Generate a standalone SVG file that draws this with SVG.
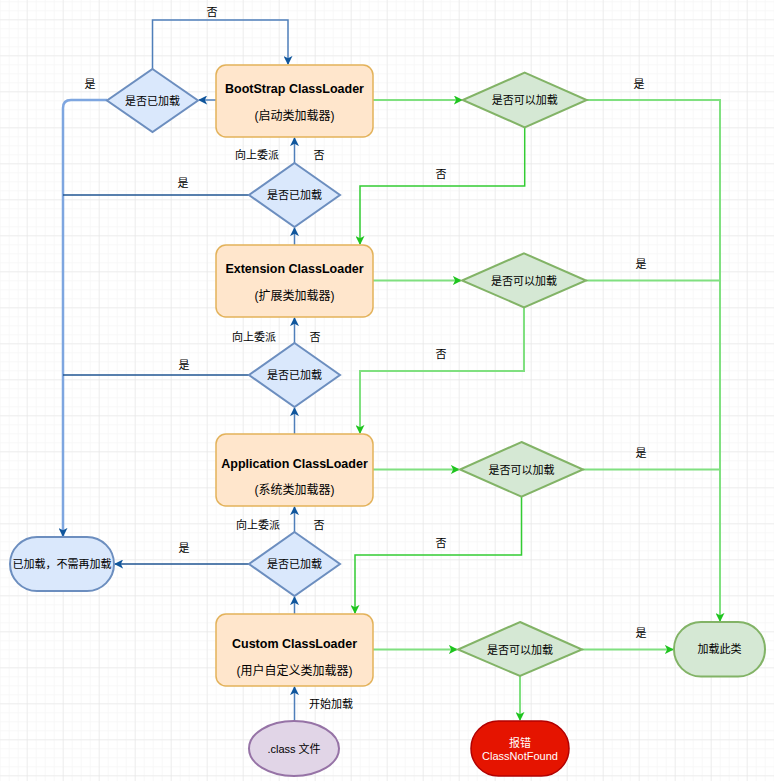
<svg xmlns="http://www.w3.org/2000/svg" width="774" height="781" viewBox="0 0 774 781">
<defs>
<pattern id="minor" x="26.7" y="19.3" width="9" height="9" patternUnits="userSpaceOnUse">
<path d="M0,0 H9 M0,0 V9" fill="none" stroke="#f2f2f2" stroke-width="1"/>
</pattern>
<pattern id="major" x="26.7" y="19.3" width="36" height="36" patternUnits="userSpaceOnUse">
<path d="M0,0 H36 M0,0 V36" fill="none" stroke="#e4e4e4" stroke-width="1"/>
</pattern>
<marker id="ab" viewBox="0 0 10 10" refX="9" refY="5" markerWidth="9" markerHeight="9" markerUnits="userSpaceOnUse" orient="auto">
<path d="M0,0 L10,5 L0,10 L2.5,5 Z" fill="#10569c"/>
</marker>
<marker id="ag" viewBox="0 0 10 10" refX="9" refY="5" markerWidth="9" markerHeight="9" markerUnits="userSpaceOnUse" orient="auto">
<path d="M0,0 L10,5 L0,10 L2.5,5 Z" fill="#1ec41e"/>
</marker>
<style>
text{font-family:"Liberation Sans","Noto Sans CJK SC",sans-serif;font-size:11px;fill:#000;text-anchor:middle}
.t{font-size:12.5px;font-weight:bold}
.s{font-size:12px}
.box{fill:#ffe6cc;stroke:#e3b25a;stroke-width:1.5}
.bd{fill:#dae8fc;stroke:#6c8ebf;stroke-width:2}
.gd{fill:#d5e8d4;stroke:#82b366;stroke-width:2}
.bl{fill:none;stroke:#4f7fba;stroke-width:1.5}
.bld{fill:none;stroke:#1f5592;stroke-width:1.3}
.blt{fill:none;stroke:#7ea6e0;stroke-width:2.5}
.gl{fill:none;stroke:#80e080;stroke-width:2}
.gn{fill:none;stroke:#33cc33;stroke-width:1.5}
</style>
</defs>
<rect width="774" height="781" fill="#ffffff"/>
<rect width="774" height="781" fill="url(#minor)"/>
<rect width="774" height="781" fill="url(#major)"/>

<g id="connectors">
<path class="bl" d="M216,100 L199,100" marker-end="url(#ab)"/>
<path class="bl" d="M152.5,69 L152.5,20 L288,20 L288,64" marker-end="url(#ab)"/>
<path class="blt" d="M107,100 L71,100 Q63,100 63,108 L63,536" marker-end="url(#ab)"/>
<path class="bld" d="M249,195 L63,195"/>
<path class="bld" d="M249,375 L63,375"/>
<path class="bld" d="M249,564 L115,564" marker-end="url(#ab)"/>
<path class="bl" d="M294.5,163 L294.5,138" marker-end="url(#ab)"/>
<path class="bl" d="M294.5,245 L294.5,228" marker-end="url(#ab)"/>
<path class="bl" d="M294.5,343 L294.5,318" marker-end="url(#ab)"/>
<path class="bl" d="M294.5,434 L294.5,408" marker-end="url(#ab)"/>
<path class="bl" d="M294.5,532 L294.5,507" marker-end="url(#ab)"/>
<path class="bl" d="M294.5,614 L294.5,597" marker-end="url(#ab)"/>
<path class="bl" d="M294.5,721 L294.5,687" marker-end="url(#ab)"/>
<path class="gl" d="M373,100 L462,100" marker-end="url(#ag)"/>
<path class="gl" d="M587,100 L720,100 L720,621" marker-end="url(#ag)"/>
<path class="gn" d="M524.7,127 L524.7,186 L360,186 L360,244" marker-end="url(#ag)"/>
<path class="gl" d="M373,280.5 L461,280.5" marker-end="url(#ag)"/>
<path class="gl" d="M586,280.5 L720,280.5"/>
<path class="gl" d="M524,307 L524,371 L360,371 L360,433" marker-end="url(#ag)"/>
<path class="gl" d="M373,469.5 L459,469.5" marker-end="url(#ag)"/>
<path class="gl" d="M583,469.5 L720,469.5"/>
<path class="gn" d="M521.5,497 L521.5,555 L355,555 L355,613" marker-end="url(#ag)"/>
<path class="gl" d="M373,649.5 L457,649.5" marker-end="url(#ag)"/>
<path class="gl" d="M582,649.5 L673,649.5" marker-end="url(#ag)"/>
<path class="gl" d="M520,676 L520,720" marker-end="url(#ag)"/>
<text x="212" y="16">否</text>
<text x="90" y="88">是</text>
<text x="183" y="187">是</text>
<text x="184" y="369">是</text>
<text x="184" y="552">是</text>
<text x="257" y="159">向上委派</text>
<text x="319" y="159">否</text>
<text x="254" y="341">向上委派</text>
<text x="315" y="341">否</text>
<text x="258" y="529">向上委派</text>
<text x="319" y="529">否</text>
<text x="331" y="708">开始加载</text>
<text x="639" y="88">是</text>
<text x="641" y="268">是</text>
<text x="641" y="457">是</text>
<text x="641" y="637">是</text>
<text x="441" y="178">否</text>
<text x="441" y="358">否</text>
<text x="441" y="547">否</text>
</g>

<g id="bootstrap">
<rect class="box" x="216" y="65" width="157" height="72" rx="10"/>
<text class="t" x="294.5" y="93">BootStrap ClassLoader</text>
<text class="s" x="294.5" y="120">(启动类加载器)</text>
</g>
<g id="extension">
<rect class="box" x="216" y="245" width="157" height="72" rx="10"/>
<text class="t" x="294.5" y="273">Extension ClassLoader</text>
<text class="s" x="294.5" y="300">(扩展类加载器)</text>
</g>
<g id="application">
<rect class="box" x="216" y="434" width="157" height="72" rx="10"/>
<text class="t" x="294.5" y="468">Application ClassLoader</text>
<text class="s" x="294.5" y="494">(系统类加载器)</text>
</g>
<g id="custom">
<rect class="box" x="216" y="614" width="157" height="72" rx="10"/>
<text class="t" x="294.5" y="648">Custom ClassLoader</text>
<text class="s" x="294.5" y="675">(用户自定义类加载器)</text>
</g>

<g id="loaded1">
<polygon class="bd" points="152.5,69 198,100.5 152.5,132 107,100.5"/>
<text x="152.5" y="104.5">是否已加载</text>
</g>
<g id="loaded2">
<polygon class="bd" points="294.5,163 340,195 294.5,227 249,195"/>
<text x="294.5" y="199">是否已加载</text>
</g>
<g id="loaded3">
<polygon class="bd" points="294.5,343 340,375 294.5,407 249,375"/>
<text x="294.5" y="379">是否已加载</text>
</g>
<g id="loaded4">
<polygon class="bd" points="294.5,532 340,564 294.5,596 249,564"/>
<text x="294.5" y="568">是否已加载</text>
</g>

<g id="can1">
<polygon class="gd" points="524.7,72.7 586.7,100 524.7,127.3 462.7,100"/>
<text x="524.7" y="104">是否可以加载</text>
</g>
<g id="can2">
<polygon class="gd" points="524,253.3 586,280.5 524,307.3 462,280.5"/>
<text x="524" y="284.5">是否可以加载</text>
</g>
<g id="can3">
<polygon class="gd" points="521.5,442 583,469.5 521.5,496.7 460,469.5"/>
<text x="521.5" y="473.5">是否可以加载</text>
</g>
<g id="can4">
<polygon class="gd" points="520,622 582,649.5 520,676 458,649.5"/>
<text x="520" y="653.5">是否可以加载</text>
</g>

<g id="already">
<rect x="10" y="537" width="104" height="54" rx="27" fill="#dae8fc" stroke="#6c8ebf" stroke-width="2"/>
<text x="62" y="568">已加载，不需再加载</text>
</g>
<g id="loadclass">
<rect x="674" y="622" width="91" height="54.5" rx="27" fill="#d5e8d4" stroke="#82b366" stroke-width="2"/>
<text x="719.5" y="653">加载此类</text>
</g>
<g id="error">
<rect x="471" y="721" width="98" height="55" rx="27.5" fill="#e51400" stroke="#b20000" stroke-width="1.5"/>
<text x="520" y="747" style="fill:#ffffff">报错</text>
<text x="520" y="760" style="fill:#ffffff">ClassNotFound</text>
</g>
<g id="classfile">
<ellipse cx="294" cy="748.5" rx="45" ry="27.5" fill="#e1d5e7" stroke="#9673a6" stroke-width="2"/>
<text x="294" y="752.5">.class 文件</text>
</g>
</svg>
